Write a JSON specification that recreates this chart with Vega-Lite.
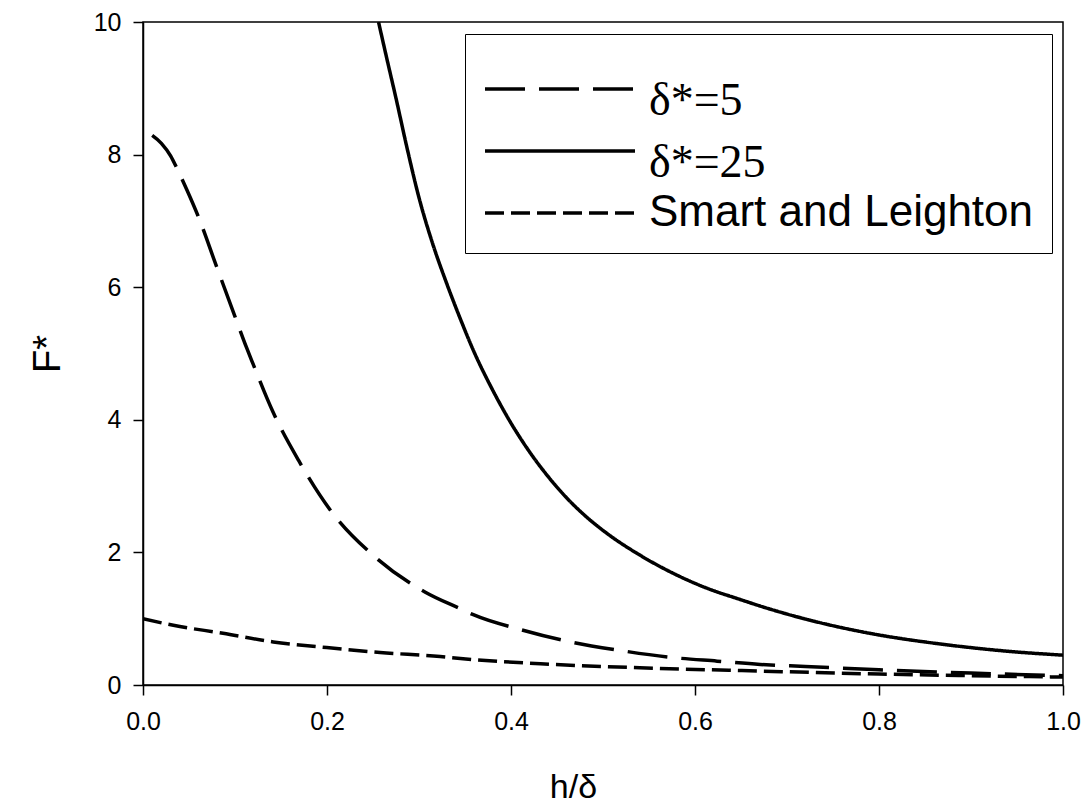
{
  "$schema": "https://vega.github.io/schema/vega-lite/v6.json",
  "width": 920,
  "height": 663,
  "autosize": {"type": "none"},
  "padding": {"left": 143, "top": 22, "right": 26, "bottom": 126},
  "background": "white",
  "config": {
    "view": {"stroke": "black", "strokeWidth": 1.5},
    "font": "Liberation Sans"
  },
  "data": {
    "values": [
      {"series": "δ*=5", "x": 0.010, "F": 8.29},
      {"series": "δ*=5", "x": 0.020, "F": 8.17},
      {"series": "δ*=5", "x": 0.030, "F": 7.98},
      {"series": "δ*=5", "x": 0.0366, "F": 7.80},
      {"series": "δ*=5", "x": 0.048, "F": 7.46},
      {"series": "δ*=5", "x": 0.060, "F": 7.07},
      {"series": "δ*=5", "x": 0.080, "F": 6.31},
      {"series": "δ*=5", "x": 0.0994, "F": 5.58},
      {"series": "δ*=5", "x": 0.1128, "F": 5.08},
      {"series": "δ*=5", "x": 0.1194, "F": 4.85},
      {"series": "δ*=5", "x": 0.1412, "F": 4.12},
      {"series": "δ*=5", "x": 0.169, "F": 3.39},
      {"series": "δ*=5", "x": 0.2035, "F": 2.64},
      {"series": "δ*=5", "x": 0.2524, "F": 1.93},
      {"series": "δ*=5", "x": 0.3069, "F": 1.40},
      {"series": "δ*=5", "x": 0.345, "F": 1.15},
      {"series": "δ*=5", "x": 0.359, "F": 1.06},
      {"series": "δ*=5", "x": 0.412, "F": 0.83},
      {"series": "δ*=5", "x": 0.4646, "F": 0.65},
      {"series": "δ*=5", "x": 0.519, "F": 0.52},
      {"series": "δ*=5", "x": 0.5716, "F": 0.42},
      {"series": "δ*=5", "x": 0.624, "F": 0.36},
      {"series": "δ*=5", "x": 0.671, "F": 0.31},
      {"series": "δ*=5", "x": 0.72, "F": 0.28},
      {"series": "δ*=5", "x": 0.80, "F": 0.23},
      {"series": "δ*=5", "x": 0.90, "F": 0.18},
      {"series": "δ*=5", "x": 1.00, "F": 0.14},
      {"series": "δ*=25", "x": 0.256, "F": 10.0},
      {"series": "δ*=25", "x": 0.265, "F": 9.45},
      {"series": "δ*=25", "x": 0.275, "F": 8.85},
      {"series": "δ*=25", "x": 0.287, "F": 8.10},
      {"series": "δ*=25", "x": 0.300, "F": 7.35},
      {"series": "δ*=25", "x": 0.315, "F": 6.65},
      {"series": "δ*=25", "x": 0.330, "F": 6.06},
      {"series": "δ*=25", "x": 0.345, "F": 5.52},
      {"series": "δ*=25", "x": 0.359, "F": 5.05},
      {"series": "δ*=25", "x": 0.380, "F": 4.45},
      {"series": "δ*=25", "x": 0.400, "F": 3.95},
      {"series": "δ*=25", "x": 0.420, "F": 3.52},
      {"series": "δ*=25", "x": 0.440, "F": 3.15},
      {"series": "δ*=25", "x": 0.460, "F": 2.83},
      {"series": "δ*=25", "x": 0.480, "F": 2.56},
      {"series": "δ*=25", "x": 0.504, "F": 2.29},
      {"series": "δ*=25", "x": 0.540, "F": 1.96},
      {"series": "δ*=25", "x": 0.577, "F": 1.68},
      {"series": "δ*=25", "x": 0.613, "F": 1.46},
      {"series": "δ*=25", "x": 0.649, "F": 1.29},
      {"series": "δ*=25", "x": 0.671, "F": 1.19},
      {"series": "δ*=25", "x": 0.7214, "F": 0.99},
      {"series": "δ*=25", "x": 0.7938, "F": 0.77},
      {"series": "δ*=25", "x": 0.866, "F": 0.62},
      {"series": "δ*=25", "x": 0.939, "F": 0.51},
      {"series": "δ*=25", "x": 1.00, "F": 0.45},
      {"series": "Smart and Leighton", "x": 0.000, "F": 1.00},
      {"series": "Smart and Leighton", "x": 0.033, "F": 0.90},
      {"series": "Smart and Leighton", "x": 0.087, "F": 0.78},
      {"series": "Smart and Leighton", "x": 0.1416, "F": 0.65},
      {"series": "Smart and Leighton", "x": 0.1997, "F": 0.565},
      {"series": "Smart and Leighton", "x": 0.2577, "F": 0.49},
      {"series": "Smart and Leighton", "x": 0.323, "F": 0.43},
      {"series": "Smart and Leighton", "x": 0.345, "F": 0.40},
      {"series": "Smart and Leighton", "x": 0.432, "F": 0.32},
      {"series": "Smart and Leighton", "x": 0.540, "F": 0.26},
      {"series": "Smart and Leighton", "x": 0.671, "F": 0.21},
      {"series": "Smart and Leighton", "x": 0.80, "F": 0.165},
      {"series": "Smart and Leighton", "x": 0.90, "F": 0.14},
      {"series": "Smart and Leighton", "x": 1.00, "F": 0.12}
    ]
  },
  "mark": {"type": "line", "color": "black", "strokeWidth": 3.5, "strokeCap": "butt", "clip": true, "interpolate": "monotone"},
  "encoding": {
    "x": {
      "field": "x", "type": "quantitative",
      "scale": {"domain": [0, 1], "nice": false},
      "axis": {
        "title": "h/δ", "values": [0, 0.2, 0.4, 0.6, 0.8, 1.0], "format": ".1f",
        "grid": false, "domain": true, "domainColor": "black", "domainWidth": 1.5,
        "ticks": true, "tickColor": "black", "tickWidth": 1.5, "tickSize": 10,
        "labelFont": "Liberation Sans", "labelFontSize": 25, "labelColor": "black", "labelPadding": 14, "labelFlush": false,
        "titleFont": "Liberation Sans", "titleFontSize": 34, "titleFontWeight": "normal", "titleColor": "black", "titlePadding": 36, "titleX": 430
      }
    },
    "y": {
      "field": "F", "type": "quantitative",
      "scale": {"domain": [0, 10], "nice": false},
      "axis": {
        "title": "F*", "values": [0, 2, 4, 6, 8, 10],
        "grid": false, "domain": true, "domainColor": "black", "domainWidth": 1.5,
        "ticks": true, "tickColor": "black", "tickWidth": 1.5, "tickSize": 10,
        "labelFont": "Liberation Sans", "labelFontSize": 25, "labelColor": "black", "labelPadding": 12, "labelFlush": false,
        "titleFont": "Liberation Sans", "titleFontSize": 38, "titleFontWeight": "normal", "titleColor": "black", "titlePadding": 26
      }
    },
    "strokeDash": {
      "field": "series", "type": "nominal",
      "scale": {"domain": ["δ*=5", "δ*=25", "Smart and Leighton"], "range": [[40, 14], [1, 0], [19, 7]]},
      "legend": {
        "orient": "none", "legendX": 322, "legendY": 12,
        "title": " ", "titleFontSize": 10, "titlePadding": 5,
        "padding": 18, "strokeColor": "black", "fillColor": "white",
        "symbolType": "stroke", "symbolSize": 22500, "symbolStrokeWidth": 3.5, "symbolStrokeColor": "black",
        "clipHeight": 44, "rowPadding": 5,
        "labelFont": "Liberation Serif", "labelFontSize": 44, "labelColor": "black", "labelOffset": 12, "labelLimit": 600, "labelBaseline": "middle",
        "encode": {
          "labels": {
            "update": {
              "font": {"signal": "datum.label === 'Smart and Leighton' ? 'Liberation Sans' : 'Liberation Serif'"},
              "fontSize": {"signal": "datum.label === 'Smart and Leighton' ? 44 : 46"},
              "dy": {"signal": "datum.label === 'Smart and Leighton' ? 0 : 12"}
            }
          }
        }
      }
    }
  }
}
